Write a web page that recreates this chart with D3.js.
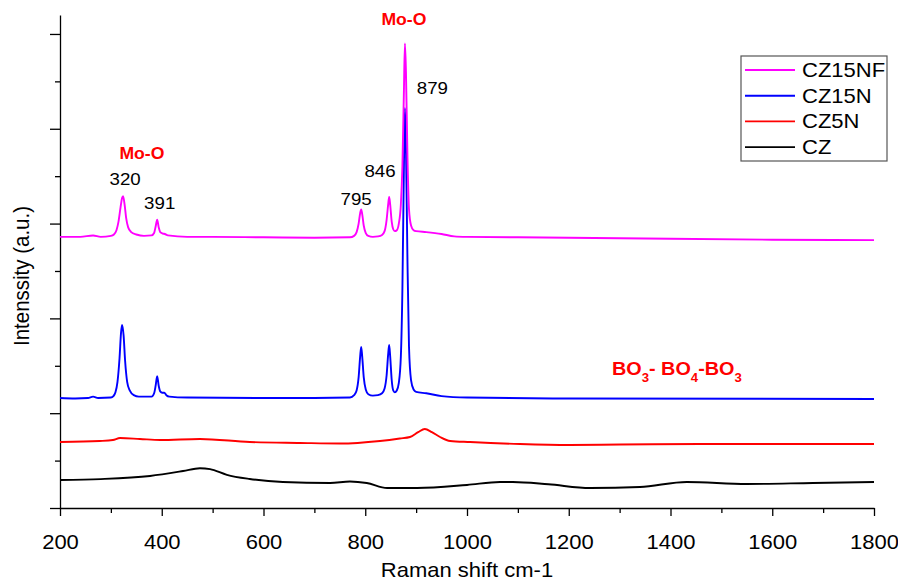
<!DOCTYPE html>
<meta charset="utf-8">
<script src="https://d3js.org/d3.v7.min.js"></script>
<style>
  body { margin: 0; background: #fff; }
  text { font-family: "Liberation Sans", Arial, sans-serif; }
</style>
<div id="chart"></div>
<script>
  // spectra: [wavenumber, intensity (a.u., offset)]
  var cz15nf = [
    [200, 2.86], [240, 2.86], [265, 2.875], [280, 2.86], [300, 2.87], [306, 2.885], [311, 2.93],
    [315, 3.02], [319, 3.17], [322, 3.27], [324, 3.29], [327, 3.20], [330, 3.06], [334, 2.96],
    [340, 2.91], [350, 2.885], [365, 2.87], [380, 2.875], [385, 2.90], [388, 2.97], [391, 3.04],
    [394, 2.96], [397, 2.91], [402, 2.895], [406, 2.89], [412, 2.875], [450, 2.86], [500, 2.86],
    [600, 2.855], [700, 2.85], [770, 2.855], [778, 2.87], [783, 2.91], [787, 3.00], [790, 3.11],
    [792, 3.15], [794, 3.10], [797, 2.98], [801, 2.90], [806, 2.87], [815, 2.86], [825, 2.865],
    [833, 2.88], [838, 2.92], [842, 3.04], [845, 3.20], [847, 3.28], [849, 3.20], [852, 3.02],
    [855, 2.94], [858, 2.92], [862, 2.93], [866, 3.00], [870, 3.20], [873, 3.60], [876, 4.40],
    [878, 4.90], [880, 4.60], [883, 3.70], [886, 3.15], [890, 2.98], [895, 2.93], [900, 2.92],
    [920, 2.91], [950, 2.89], [975, 2.865], [1000, 2.86], [1100, 2.855], [1200, 2.85],
    [1400, 2.84], [1600, 2.83], [1800, 2.825]
  ];

  var cz15n = [
    [200, 1.16], [230, 1.155], [255, 1.16], [265, 1.175], [275, 1.16], [300, 1.165], [305, 1.18],
    [309, 1.22], [313, 1.33], [317, 1.58], [320, 1.85], [322, 1.93], [325, 1.82], [328, 1.55],
    [332, 1.33], [337, 1.24], [345, 1.19], [355, 1.175], [380, 1.175], [385, 1.21], [388, 1.29],
    [391, 1.39], [394, 1.29], [397, 1.23], [401, 1.215], [405, 1.215], [409, 1.19], [415, 1.175],
    [450, 1.165], [600, 1.16], [700, 1.16], [770, 1.165], [778, 1.19], [783, 1.24], [787, 1.38],
    [790, 1.60], [792, 1.70], [794, 1.60], [797, 1.38], [801, 1.25], [806, 1.20], [815, 1.185],
    [825, 1.19], [833, 1.21], [838, 1.26], [842, 1.40], [845, 1.62], [847, 1.72], [849, 1.60],
    [852, 1.35], [855, 1.24], [858, 1.22], [862, 1.24], [866, 1.32], [870, 1.60], [873, 2.30],
    [876, 3.60], [878, 4.22], [880, 3.80], [883, 2.60], [886, 1.70], [890, 1.35], [895, 1.25],
    [900, 1.225], [920, 1.21], [950, 1.18], [1000, 1.165], [1200, 1.155], [1800, 1.15]
  ];

  var cz5n = [
    [200, 0.696], [278, 0.707], [304, 0.717], [318, 0.738], [357, 0.728], [397, 0.717],
    [475, 0.728], [573, 0.696], [672, 0.686], [750, 0.68], [829, 0.707], [868, 0.733],
    [888, 0.749], [904, 0.80], [917, 0.833], [931, 0.80], [947, 0.749], [967, 0.707],
    [1006, 0.696], [1104, 0.675], [1202, 0.665], [1301, 0.67], [1458, 0.675], [1800, 0.675]
  ];

  var cz = [
    [200, 0.295], [280, 0.305], [377, 0.338], [442, 0.39], [475, 0.42], [495, 0.41],
    [528, 0.35], [573, 0.306], [638, 0.274], [731, 0.264], [770, 0.28], [803, 0.264],
    [843, 0.211], [902, 0.211], [1000, 0.243], [1065, 0.274], [1090, 0.274], [1160, 0.25],
    [1242, 0.211], [1340, 0.222], [1432, 0.274], [1550, 0.253], [1680, 0.264], [1800, 0.274]
  ];

  var seriesNames = ["CZ15NF", "CZ15N", "CZ5N", "CZ"];
  var seriesData = [cz15nf, cz15n, cz5n, cz];
  var seriesColors = ["#ff00ff", "#0000ff", "#ff0000", "#000000"];

  var xMajorTicks = [200, 400, 600, 800, 1000, 1200, 1400, 1600, 1800];
  var xMinorTicks = [300, 500, 700, 900, 1100, 1300, 1500, 1700];
  var yMajorTicks = [0, 1, 2, 3, 4, 5];
  var yMinorTicks = [0.5, 1.5, 2.5, 3.5, 4.5];

  // peak labels: [wavenumber position of label, intensity position, text]
  var peakLabels = [
    [328, 3.41, "320"], [396, 3.15, "391"], [782, 3.2, "795"], [829, 3.49, "846"], [932, 4.37, "879"]
  ];

  var width = 898, height = 580;
  var sx = 1.1; // text in the picture is a bit wide

  var svg = d3.select("#chart")
    .append("svg")
    .attr("width", width)
    .attr("height", height);

  var x = d3.scaleLinear().domain([200, 1800]).range([60, 874]);
  var y = d3.scaleLinear().domain([0, 5.2]).range([508, 15]);

  // axes
  var xMinor = svg.append("g")
    .attr("transform", "translate(0,508)")
    .call(d3.axisBottom(x).tickValues(xMinorTicks).tickSize(5).tickFormat(""));
  xMinor.select(".domain").remove();

  var xAxis = svg.append("g")
    .attr("transform", "translate(0,508)")
    .call(d3.axisBottom(x).tickValues(xMajorTicks).tickSize(8).tickSizeOuter(0).tickFormat(d3.format("d")));
  xAxis.selectAll("text")
    .attr("y", 0)
    .attr("dy", 0)
    .attr("transform", "translate(0,41) scale(" + sx + ",1)")
    .style("font-size", "20px")
    .attr("fill", "#000");

  var yMinor = svg.append("g")
    .attr("transform", "translate(60,0)")
    .call(d3.axisLeft(y).tickValues(yMinorTicks).tickSize(5).tickFormat(""));
  yMinor.select(".domain").remove();

  svg.append("g")
    .attr("transform", "translate(60,0)")
    .call(d3.axisLeft(y).tickValues(yMajorTicks).tickSize(10).tickSizeOuter(0).tickFormat(""));

  svg.selectAll(".domain, .tick line").attr("stroke", "#000").attr("stroke-width", 1.3);

  // axis titles
  svg.append("text")
    .attr("transform", "translate(467,577) scale(" + sx + ",1)")
    .attr("text-anchor", "middle")
    .style("font-size", "20px")
    .text("Raman shift cm-1");

  svg.append("text")
    .attr("transform", "translate(29,276) rotate(-90) scale(1," + sx + ")")
    .attr("text-anchor", "middle")
    .style("font-size", "20.5px")
    .text("Intenssity (a.u.)");

  // spectra
  var line = d3.line()
    .x(function (d) { return x(d[0]); })
    .y(function (d) { return y(d[1]); })
    .curve(d3.curveMonotoneX);

  // draw bottom series first so magenta sits on top like the original
  for (var i = seriesData.length - 1; i >= 0; i--) {
    svg.append("path")
      .datum(seriesData[i])
      .attr("fill", "none")
      .attr("stroke", seriesColors[i])
      .attr("stroke-width", 1.9)
      .attr("stroke-linejoin", "round")
      .attr("d", line);
  }

  // peak labels
  peakLabels.forEach(function (p) {
    svg.append("text")
      .attr("transform", "translate(" + x(p[0]) + "," + y(p[1]) + ") scale(" + sx + ",1)")
      .attr("text-anchor", "middle")
      .style("font-size", "17px")
      .text(p[2]);
  });

  // Mo-O labels
  [[361, 3.68], [876, 5.09]].forEach(function (p) {
    svg.append("text")
      .attr("transform", "translate(" + x(p[0]) + "," + y(p[1]) + ") scale(" + sx + ",1)")
      .attr("text-anchor", "middle")
      .attr("fill", "#ff0000")
      .style("font-size", "16px")
      .style("font-weight", "bold")
      .text("Mo-O");
  });

  // BO3- BO4-BO3 label with subscripts
  var bo = svg.append("text")
    .attr("transform", "translate(612,375) scale(" + sx + ",1)")
    .attr("fill", "#ff0000")
    .style("font-size", "18px")
    .style("font-weight", "bold");
  var parts = [["BO", 0], ["3", 1], ["- BO", 0], ["4", 1], ["-BO", 0], ["3", 1]];
  var shift = 0;
  parts.forEach(function (p) {
    var dy = p[1] ? 7 - shift : -shift;
    shift = p[1] ? 7 : 0;
    bo.append("tspan")
      .attr("dy", dy)
      .style("font-size", p[1] ? "12px" : "18px")
      .text(p[0]);
  });

  // legend
  var legend = svg.append("g");
  legend.append("rect")
    .attr("x", 741).attr("y", 56)
    .attr("width", 146).attr("height", 105)
    .attr("fill", "#fff")
    .attr("stroke", "#555")
    .attr("stroke-width", 1.2);
  seriesNames.forEach(function (name, i) {
    var ly = 70 + i * 25.7;
    legend.append("line")
      .attr("x1", 745).attr("x2", 795)
      .attr("y1", ly).attr("y2", ly)
      .attr("stroke", seriesColors[i])
      .attr("stroke-width", 1.9);
    legend.append("text")
      .attr("transform", "translate(802," + (ly + 7) + ") scale(" + sx + ",1)")
      .style("font-size", "20px")
      .text(name);
  });
</script>
